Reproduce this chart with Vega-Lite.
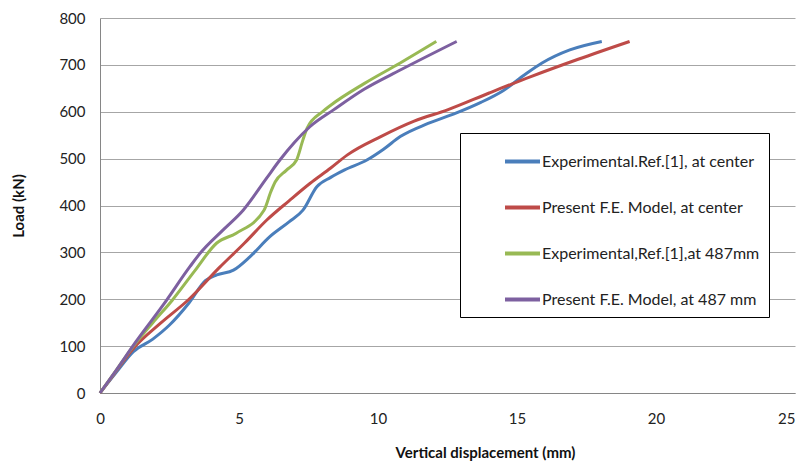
{
  "$schema": "https://vega.github.io/schema/vega-lite/v6.json",
  "width": 695,
  "height": 375,
  "autosize": "none",
  "padding": {"left": 100, "top": 18, "right": 2, "bottom": 69},
  "background": "white",
  "config": {"view": {"stroke": null}, "font": "Lato"},
  "data": {"values": [
    {"s": "Experimental.Ref.[1], at center", "x": 0, "y": 0},
    {"s": "Experimental.Ref.[1], at center", "x": 0.6, "y": 45},
    {"s": "Experimental.Ref.[1], at center", "x": 1.2, "y": 88},
    {"s": "Experimental.Ref.[1], at center", "x": 1.9, "y": 115},
    {"s": "Experimental.Ref.[1], at center", "x": 2.5, "y": 145},
    {"s": "Experimental.Ref.[1], at center", "x": 3.2, "y": 192},
    {"s": "Experimental.Ref.[1], at center", "x": 3.8, "y": 240},
    {"s": "Experimental.Ref.[1], at center", "x": 4.2, "y": 252},
    {"s": "Experimental.Ref.[1], at center", "x": 4.8, "y": 262},
    {"s": "Experimental.Ref.[1], at center", "x": 5.4, "y": 291},
    {"s": "Experimental.Ref.[1], at center", "x": 6.1, "y": 333},
    {"s": "Experimental.Ref.[1], at center", "x": 6.8, "y": 365},
    {"s": "Experimental.Ref.[1], at center", "x": 7.3, "y": 390},
    {"s": "Experimental.Ref.[1], at center", "x": 7.8, "y": 440},
    {"s": "Experimental.Ref.[1], at center", "x": 8.3, "y": 460},
    {"s": "Experimental.Ref.[1], at center", "x": 8.8, "y": 476},
    {"s": "Experimental.Ref.[1], at center", "x": 9.6, "y": 497},
    {"s": "Experimental.Ref.[1], at center", "x": 10.2, "y": 520},
    {"s": "Experimental.Ref.[1], at center", "x": 10.8, "y": 547},
    {"s": "Experimental.Ref.[1], at center", "x": 11.8, "y": 575},
    {"s": "Experimental.Ref.[1], at center", "x": 12.8, "y": 597},
    {"s": "Experimental.Ref.[1], at center", "x": 13.7, "y": 620},
    {"s": "Experimental.Ref.[1], at center", "x": 14.5, "y": 645},
    {"s": "Experimental.Ref.[1], at center", "x": 15.3, "y": 680},
    {"s": "Experimental.Ref.[1], at center", "x": 15.9, "y": 704},
    {"s": "Experimental.Ref.[1], at center", "x": 16.9, "y": 732},
    {"s": "Experimental.Ref.[1], at center", "x": 18.05, "y": 750},
    {"s": "Present F.E. Model, at center", "x": 0, "y": 0},
    {"s": "Present F.E. Model, at center", "x": 0.5, "y": 40},
    {"s": "Present F.E. Model, at center", "x": 1.2, "y": 95},
    {"s": "Present F.E. Model, at center", "x": 2.2, "y": 150},
    {"s": "Present F.E. Model, at center", "x": 3.2, "y": 200},
    {"s": "Present F.E. Model, at center", "x": 4.3, "y": 268},
    {"s": "Present F.E. Model, at center", "x": 5.2, "y": 320},
    {"s": "Present F.E. Model, at center", "x": 6.0, "y": 369},
    {"s": "Present F.E. Model, at center", "x": 6.8, "y": 410},
    {"s": "Present F.E. Model, at center", "x": 7.55, "y": 447},
    {"s": "Present F.E. Model, at center", "x": 8.3, "y": 480},
    {"s": "Present F.E. Model, at center", "x": 8.9, "y": 508},
    {"s": "Present F.E. Model, at center", "x": 10.1, "y": 547},
    {"s": "Present F.E. Model, at center", "x": 11.3, "y": 580},
    {"s": "Present F.E. Model, at center", "x": 12.5, "y": 604},
    {"s": "Present F.E. Model, at center", "x": 14.0, "y": 640},
    {"s": "Present F.E. Model, at center", "x": 15.5, "y": 675},
    {"s": "Present F.E. Model, at center", "x": 17.2, "y": 712},
    {"s": "Present F.E. Model, at center", "x": 19.05, "y": 750},
    {"s": "Experimental,Ref.[1],at 487mm", "x": 0, "y": 0},
    {"s": "Experimental,Ref.[1],at 487mm", "x": 0.6, "y": 50},
    {"s": "Experimental,Ref.[1],at 487mm", "x": 1.2, "y": 100},
    {"s": "Experimental,Ref.[1],at 487mm", "x": 1.9, "y": 150},
    {"s": "Experimental,Ref.[1],at 487mm", "x": 2.6, "y": 198},
    {"s": "Experimental,Ref.[1],at 487mm", "x": 3.4, "y": 260},
    {"s": "Experimental,Ref.[1],at 487mm", "x": 4.2, "y": 320},
    {"s": "Experimental,Ref.[1],at 487mm", "x": 4.9, "y": 341},
    {"s": "Experimental,Ref.[1],at 487mm", "x": 5.9, "y": 390},
    {"s": "Experimental,Ref.[1],at 487mm", "x": 6.15, "y": 430},
    {"s": "Experimental,Ref.[1],at 487mm", "x": 6.3, "y": 450},
    {"s": "Experimental,Ref.[1],at 487mm", "x": 6.7, "y": 475},
    {"s": "Experimental,Ref.[1],at 487mm", "x": 7.07, "y": 497},
    {"s": "Experimental,Ref.[1],at 487mm", "x": 7.3, "y": 540},
    {"s": "Experimental,Ref.[1],at 487mm", "x": 7.45, "y": 565},
    {"s": "Experimental,Ref.[1],at 487mm", "x": 8.0, "y": 600},
    {"s": "Experimental,Ref.[1],at 487mm", "x": 8.3, "y": 614},
    {"s": "Experimental,Ref.[1],at 487mm", "x": 9.5, "y": 660},
    {"s": "Experimental,Ref.[1],at 487mm", "x": 10.8, "y": 704},
    {"s": "Experimental,Ref.[1],at 487mm", "x": 12.1, "y": 750},
    {"s": "Present F.E. Model, at 487 mm", "x": 0, "y": 0},
    {"s": "Present F.E. Model, at 487 mm", "x": 0.6, "y": 50},
    {"s": "Present F.E. Model, at 487 mm", "x": 1.3, "y": 110},
    {"s": "Present F.E. Model, at 487 mm", "x": 2.3, "y": 190},
    {"s": "Present F.E. Model, at 487 mm", "x": 3.24, "y": 270},
    {"s": "Present F.E. Model, at 487 mm", "x": 3.6, "y": 298},
    {"s": "Present F.E. Model, at 487 mm", "x": 4.43, "y": 348},
    {"s": "Present F.E. Model, at 487 mm", "x": 5.15, "y": 390},
    {"s": "Present F.E. Model, at 487 mm", "x": 6.0, "y": 459},
    {"s": "Present F.E. Model, at 487 mm", "x": 6.47, "y": 497},
    {"s": "Present F.E. Model, at 487 mm", "x": 7.0, "y": 535},
    {"s": "Present F.E. Model, at 487 mm", "x": 7.55, "y": 568},
    {"s": "Present F.E. Model, at 487 mm", "x": 8.4, "y": 604},
    {"s": "Present F.E. Model, at 487 mm", "x": 9.5, "y": 648},
    {"s": "Present F.E. Model, at 487 mm", "x": 10.8, "y": 689},
    {"s": "Present F.E. Model, at 487 mm", "x": 12.83, "y": 750}
  ]},
  "mark": {"type": "line", "interpolate": "monotone", "strokeWidth": 3},
  "encoding": {
    "x": {"field": "x", "type": "quantitative",
      "scale": {"domain": [0, 25], "nice": false, "zero": true},
      "axis": {"values": [0, 5, 10, 15, 20, 25], "grid": false, "ticks": false, "labelFlush": false,
        "labelAlign": {"expr": "datum.value == 25 ? 'right' : 'center'"},
        "domainColor": "#868686", "labelFontSize": 15, "labelColor": "#222", "labelPadding": 18,
        "labelFont": "Lato", "title": "Vertical displacement (mm)", "titleFontSize": 15,
        "titleFont": "Lato", "titleColor": "#111", "titleFontWeight": "bold", "titlePadding": 19, "titleX": 385}},
    "y": {"field": "y", "type": "quantitative",
      "scale": {"domain": [0, 800], "nice": false},
      "axis": {"values": [0, 100, 200, 300, 400, 500, 600, 700, 800], "grid": true, "gridColor": "#a6a6a6",
        "ticks": false, "labelFlush": false, "domainColor": "#868686", "labelFontSize": 15, "labelColor": "#222", "labelPadding": 15,
        "labelFont": "Lato", "title": "Load (kN)", "titleFontSize": 15, "titleFont": "Lato", "titleColor": "#111",
        "titleFontWeight": "bold", "titlePadding": 32}},
    "color": {"field": "s", "type": "nominal",
      "scale": {"domain": ["Experimental.Ref.[1], at center", "Present F.E. Model, at center", "Experimental,Ref.[1],at 487mm", "Present F.E. Model, at 487 mm"],
        "range": ["#4a7ebb", "#be4b48", "#98b954", "#7d60a0"]},
      "legend": {"orient": "none", "legendX": 360, "legendY": 115, "title": null,
        "strokeColor": "#000", "fillColor": "white", "padding": 9, "symbolOffset": 34,
        "symbolType": "stroke", "symbolSize": 1225, "symbolStrokeWidth": 4,
        "labelFontSize": 16, "labelFont": "Lato", "labelColor": "#222", "labelOffset": 0,
        "labelExpr": "datum.label + '\u00a0\u00a0\u00a0\u00a0\u00a0\u00a0\u00a0\u00a0\u00a0\u00a0'",
        "rowPadding": 18, "labelLimit": 500}}
  }
}
